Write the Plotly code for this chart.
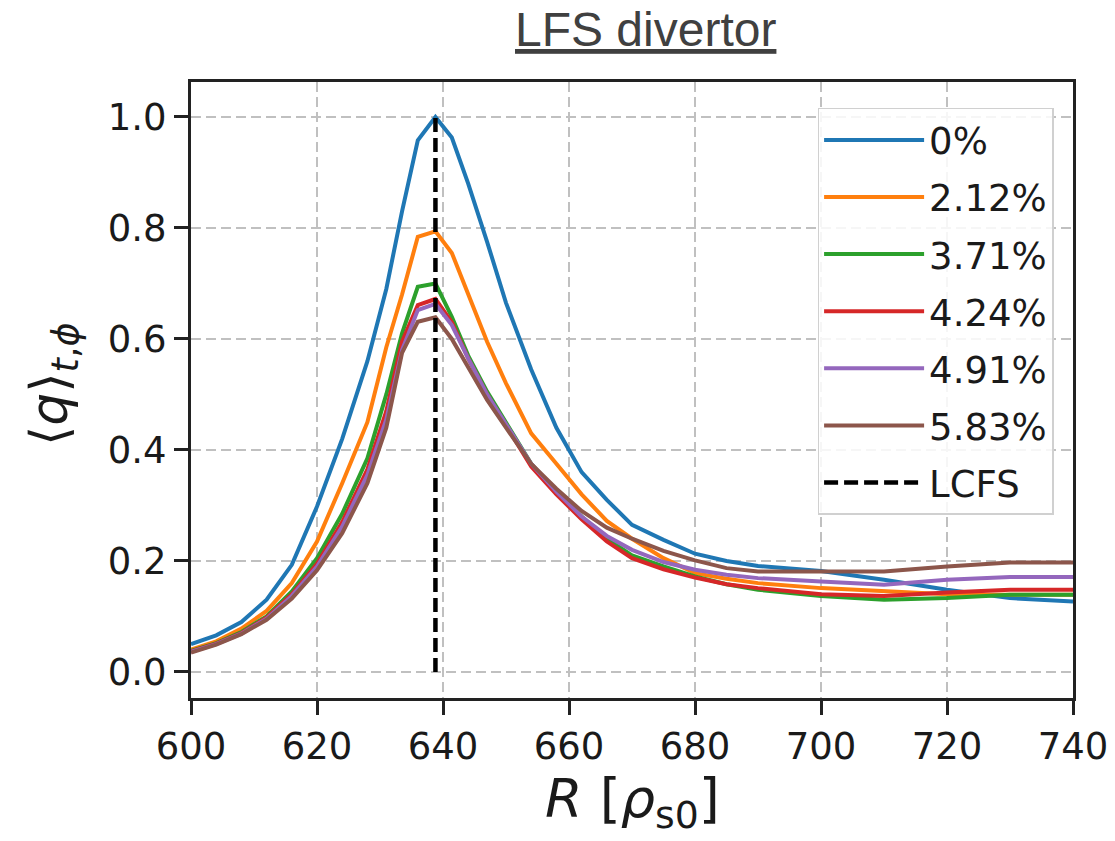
import plotly.graph_objects as go

R = [600, 604, 608, 612, 616, 620, 624, 628, 631, 633.5, 636, 638.8, 641.4, 644, 647, 650,
     654, 658, 662, 666, 670, 675, 680, 685, 690, 700, 710, 720, 730, 740]

q_0 = [0.050, 0.066, 0.090, 0.130, 0.193, 0.298, 0.420, 0.560, 0.690, 0.830, 0.958, 1.000, 0.963, 0.880, 0.775, 0.665,
       0.545, 0.440, 0.360, 0.310, 0.265, 0.238, 0.213, 0.200, 0.191, 0.182, 0.166, 0.148, 0.133, 0.127]
q_212 = [0.040, 0.055, 0.078, 0.110, 0.160, 0.235, 0.340, 0.450, 0.585, 0.680, 0.784, 0.794, 0.755, 0.680, 0.595, 0.520,
         0.430, 0.375, 0.320, 0.272, 0.240, 0.205, 0.178, 0.168, 0.160, 0.151, 0.145, 0.140, 0.139, 0.139]
q_371 = [0.038, 0.052, 0.072, 0.100, 0.145, 0.205, 0.285, 0.385, 0.500, 0.610, 0.694, 0.700, 0.640, 0.570, 0.505, 0.450,
         0.375, 0.325, 0.280, 0.240, 0.210, 0.190, 0.172, 0.158, 0.148, 0.137, 0.130, 0.133, 0.139, 0.139]
q_424 = [0.037, 0.051, 0.070, 0.098, 0.140, 0.195, 0.270, 0.365, 0.470, 0.595, 0.661, 0.672, 0.630, 0.565, 0.500, 0.445,
         0.370, 0.320, 0.275, 0.235, 0.205, 0.185, 0.170, 0.158, 0.151, 0.140, 0.137, 0.143, 0.148, 0.148]
q_491 = [0.036, 0.050, 0.069, 0.096, 0.137, 0.190, 0.262, 0.355, 0.455, 0.580, 0.652, 0.663, 0.625, 0.565, 0.500, 0.445,
         0.375, 0.325, 0.280, 0.245, 0.220, 0.198, 0.184, 0.175, 0.169, 0.163, 0.157, 0.166, 0.171, 0.171]
q_583 = [0.035, 0.049, 0.068, 0.094, 0.132, 0.183, 0.250, 0.340, 0.440, 0.575, 0.631, 0.639, 0.600, 0.548, 0.490, 0.440,
         0.375, 0.330, 0.290, 0.260, 0.240, 0.218, 0.201, 0.187, 0.181, 0.181, 0.181, 0.190, 0.197, 0.197]

labels = ["0%", "2.12%", "3.71%", "4.24%", "4.91%", "5.83%"]
series = [q_0, q_212, q_371, q_424, q_491, q_583]
colors = ["#1f77b4", "#ff7f0e", "#2ca02c", "#d62728", "#9467bd", "#8c564b"]

R_lcfs = 638.8
lcfs_y = [0.0, 1.0]

x_ticks = [600, 620, 640, 660, 680, 700, 720, 740]
y_ticks = [0.0, 0.2, 0.4, 0.6, 0.8, 1.0]

fig = go.Figure()
for i, (lab, ys, c) in enumerate(zip(labels, series, colors)):
    fig.add_trace(go.Scatter(x=R, y=ys, mode="lines", name=lab, legendgroup=f"g{i}",
                             line=dict(color=c, width=4)))
fig.add_trace(go.Scatter(x=[R_lcfs, R_lcfs], y=lcfs_y, mode="lines", name="LCFS", legendgroup="lcfs",
                         line=dict(color="black", width=4.5, dash="14px,6px")))

axis_common = dict(
    showline=True, linecolor="#222222", linewidth=3, mirror=True,
    ticks="outside", ticklen=14, tickwidth=2.5, tickcolor="#222222",
    showgrid=True, gridcolor="#c0c0c0", gridwidth=2, griddash="10px,5px",
    zeroline=False, automargin=False,
    tickfont=dict(family="DejaVu Sans", size=37, color="#1a1a1a"),
)

fig.update_layout(
    width=1115, height=841,
    margin=dict(l=191, r=42, t=82, b=143),
    paper_bgcolor="white", plot_bgcolor="white",
    showlegend=True,
    legend=dict(
        x=0.978, y=0.958, xanchor="right", yanchor="top",
        bgcolor="rgba(255,255,255,0.85)", bordercolor="#d0d0d0", borderwidth=1.5,
        font=dict(family="DejaVu Sans", size=37, color="#1a1a1a"),
        tracegroupgap=6, itemwidth=100,
    ),
    xaxis=dict(range=[600, 740], tickvals=x_ticks, ticktext=[str(v) for v in x_ticks], **axis_common),
    yaxis=dict(range=[-0.047, 1.063], tickvals=y_ticks, ticktext=[f"{v:.1f}" for v in y_ticks], **axis_common),
    annotations=[
        dict(text="<u>LFS divertor</u>", xref="paper", yref="paper", x=0.515, y=1.0,
             yshift=53, xanchor="center", yanchor="middle", showarrow=False,
             font=dict(family="Liberation Sans, Arial", size=48, color="#404040")),
        dict(text="<i>R</i> [<i>ρ</i><sub>s0</sub>]", xref="paper", yref="paper", x=0.5, y=0,
             yshift=-104, xanchor="center", yanchor="middle", showarrow=False,
             font=dict(family="DejaVu Sans", size=54, color="#1a1a1a")),
        dict(text="⟨<i>q</i>⟩<sub><i>t</i>,<i>ϕ</i></sub>", xref="paper", yref="paper", x=0, y=0.5,
             xshift=-138, yshift=5, xanchor="center", yanchor="middle", textangle=-90, showarrow=False,
             font=dict(family="DejaVu Sans", size=52, color="#1a1a1a")),
    ],
)

fig.write_html("out.html")
